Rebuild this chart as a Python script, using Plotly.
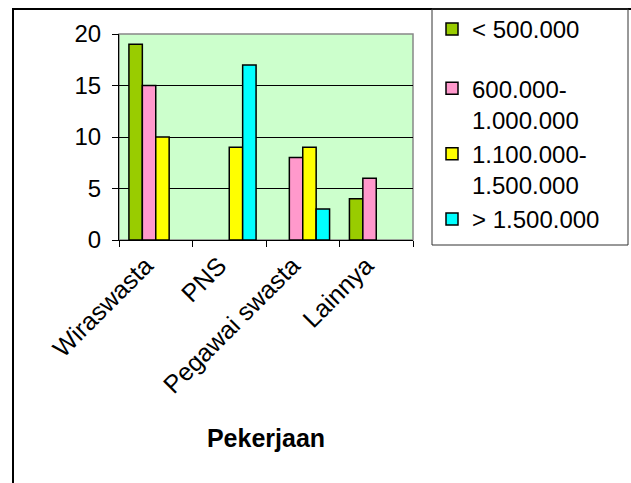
import plotly.graph_objects as go

categories = ["Wiraswasta", "PNS", "Pegawai swasta", "Lainnya"]
series_names = ["< 500.000", "600.000-<br>1.000.000", "1.100.000-<br>1.500.000", "> 1.500.000"]
s1 = [19, None, None, 4]
s2 = [15, None, 8, 6]
s3 = [10, 9, 9, None]
s4 = [None, 17, 3, None]
colors = ["#99CC00", "#FF99CC", "#FFFF00", "#00FFFF"]
y_ticks = [0, 5, 10, 15, 20]

W, H = 631, 483
L, R, T, B = 119, 413, 34, 240
FONT = "Liberation Sans, Arial, sans-serif"

fig = go.Figure()
for i, (name, vals) in enumerate(zip(series_names, [s1, s2, s3, s4])):
    fig.add_trace(go.Bar(
        x=categories, y=vals, name=name,
        marker=dict(color=colors[i], line=dict(color="black", width=1.5)),
        legendgroup="a" if i == 0 else "b",
    ))

def px_x(p):
    return (p - L) / (R - L)

def px_y(p):
    return (B - p) / (B - T)

fig.update_layout(
    width=W, height=H,
    margin=dict(l=L, r=W - R, t=T, b=H - B, autoexpand=False),
    paper_bgcolor="white",
    plot_bgcolor="#CCFFCC",
    barmode="group",
    bargap=0.27,
    bargroupgap=0,
    font=dict(family=FONT, color="black"),
    showlegend=True,
    legend=dict(
        x=px_x(432), xref="paper", xanchor="left",
        y=1 - 7 / H, yref="container", yanchor="top",
        borderwidth=0, bgcolor="rgba(0,0,0,0)",
        font=dict(size=24, family=FONT),
        valign="top", tracegroupgap=25, traceorder="grouped",
        itemwidth=30,
    ),
    xaxis=dict(
        showline=True, linecolor="black", linewidth=1,
        ticks="outside", ticklen=6, tickcolor="black",
        tickson="boundaries",
        tickangle=-45, tickfont=dict(size=25),
        ticklabelshift=-10,
        title=dict(text="<b>Pekerjaan</b>", font=dict(size=25), standoff=31),
        range=[-0.5, 3.5],
        showgrid=False,
    ),
    yaxis=dict(
        range=[0, 20], tickvals=y_ticks,
        showline=True, linecolor="black", linewidth=1,
        ticks="outside", ticklen=6, tickcolor="black",
        tickfont=dict(size=24),
        ticklabelstandoff=6,
        showgrid=True, gridcolor="black", gridwidth=1,
        zeroline=False,
    ),
    shapes=[
        dict(type="rect", xref="paper", yref="paper",
             x0=px_x(13), x1=px_x(645), y0=px_y(495), y1=px_y(9),
             line=dict(color="black", width=2), fillcolor="rgba(0,0,0,0)", layer="above"),
        dict(type="rect", xref="paper", yref="paper", x0=0, x1=1, y0=0, y1=1,
             line=dict(color="#888888", width=1.5), layer="below"),
        dict(type="rect", xref="paper", yref="paper", x0=px_x(432), x1=px_x(628), y0=px_y(245), y1=px_y(9),
             line=dict(color="#333333", width=1), fillcolor="rgba(0,0,0,0)", layer="above"),
    ],
)

fig.write_html("out.html")
